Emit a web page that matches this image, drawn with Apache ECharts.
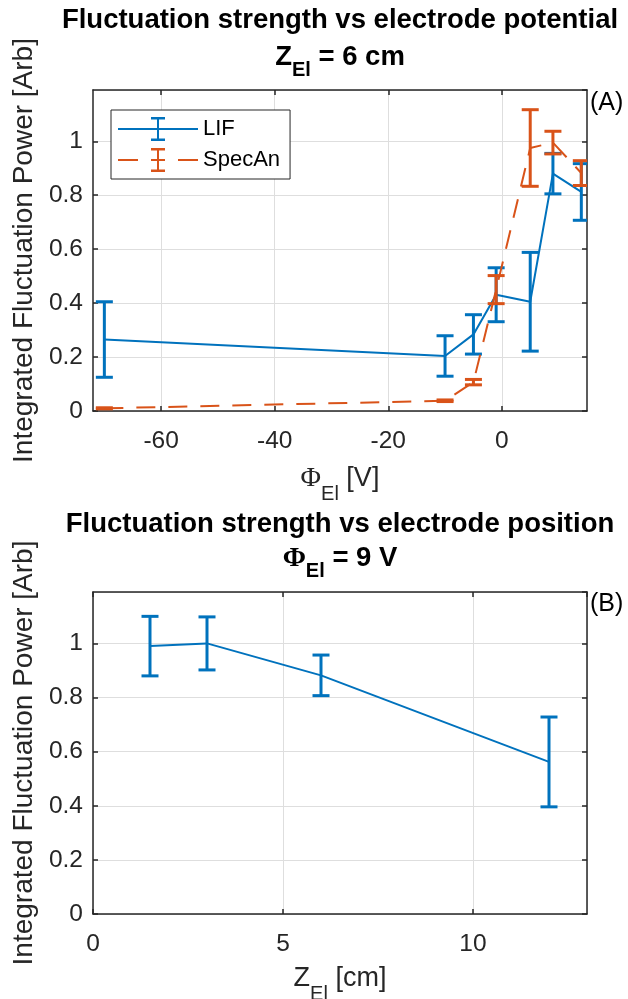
<!DOCTYPE html>
<html>
<head>
<meta charset="utf-8">
<script src="https://cdn.jsdelivr.net/npm/echarts@6/dist/echarts.min.js"></script>
<style>
  html, body { margin: 0; padding: 0; background: #fff; }
  #chart { width: 628px; height: 999px; }
</style>
</head>
<body>
<div id="chart"></div>
<script>
// top panel: fluctuation power vs electrode potential (Z_El = 6 cm)
const potential = [-70, -10, -5, -1, 5, 9, 14];
const lifPower = [0.265, 0.204, 0.284, 0.431, 0.405, 0.880, 0.812];
const lifErr = [0.140, 0.075, 0.073, 0.100, 0.183, 0.075, 0.105];
const specPower = [0.010, 0.038, 0.107, 0.450, 0.975, 0.995, 0.882];
const specErr = [0.002, 0.003, 0.010, 0.052, 0.142, 0.042, 0.046];
const potentialTicks = [-60, -40, -20, 0];

// bottom panel: fluctuation power vs electrode position (Phi_El = 9 V)
const position = [1.5, 3, 6, 12];
const posPower = [0.990, 1.000, 0.882, 0.562];
const posErr = [0.110, 0.098, 0.075, 0.166];

const BLUE = '#0072BD';
const ORANGE = '#D95319';
const AXIS = '#262626';
const GRID = '#dedede';
const FONT = 'Liberation Sans, Arial, Helvetica, sans-serif';
const SERIF = 'Liberation Serif, Times New Roman, serif';

const chart = echarts.init(document.getElementById('chart'));

function toPairs(xs, ys) {
  return xs.map((x, i) => [x, ys[i]]);
}
function toBars(xs, ys, es) {
  return xs.map((x, i) => [x, ys[i] - es[i], ys[i] + es[i]]);
}

// vertical bar with caps, drawn through the axis scales
function errorBarItem(color) {
  return function (params, api) {
    const lo = api.coord([api.value(0), api.value(1)]);
    const hi = api.coord([api.value(0), api.value(2)]);
    const w = 8.5;
    const style = { stroke: color, lineWidth: 3, fill: null };
    return {
      type: 'group',
      children: [
        { type: 'line', shape: { x1: lo[0], y1: lo[1], x2: hi[0], y2: hi[1] }, style },
        { type: 'line', shape: { x1: lo[0] - w, y1: lo[1], x2: lo[0] + w, y2: lo[1] }, style },
        { type: 'line', shape: { x1: hi[0] - w, y1: hi[1], x2: hi[0] + w, y2: hi[1] }, style }
      ]
    };
  };
}

const tickFont = { fontFamily: FONT, fontSize: 24.5, color: AXIS };
const nameRich = {
  n: { fontFamily: FONT, fontSize: 27, color: AXIS, lineHeight: 30 },
  phi: { fontFamily: SERIF, fontSize: 28, color: AXIS, lineHeight: 30 },
  sub: { fontFamily: FONT, fontSize: 20, color: AXIS, verticalAlign: 'bottom', lineHeight: 50 }
};
const titleRich = {
  b: { fontFamily: FONT, fontSize: 27.5, fontWeight: 'bold', color: '#000', lineHeight: 32 },
  phi: { fontFamily: SERIF, fontSize: 28, fontWeight: 'bold', color: '#000', lineHeight: 32 },
  sub: { fontFamily: FONT, fontSize: 20, fontWeight: 'bold', color: '#000', verticalAlign: 'bottom', lineHeight: 45 }
};

function xAxisPair(gridIndex, min, max, interval, customTicks, name, nameGap) {
  const tick = { inside: true, length: 5, lineStyle: { color: AXIS, width: 1.5 } };
  const base = {
    type: 'value',
    gridIndex,
    min,
    max,
    axisLine: { show: true, onZero: false, lineStyle: { color: AXIS, width: 1.5 } }
  };
  if (interval) base.interval = interval;
  const label = Object.assign({ margin: 18 }, tickFont);
  if (customTicks) {
    label.customValues = customTicks;
  } else {
    label.showMaxLabel = false;
  }
  const bottom = Object.assign({}, base, {
    position: 'bottom',
    axisTick: Object.assign({}, tick, customTicks ? { customValues: customTicks } : {}),
    axisLabel: label,
    splitLine: { show: true, lineStyle: { color: GRID, width: 1 } },
    name,
    nameLocation: 'middle',
    nameGap,
    nameTextStyle: { rich: nameRich }
  });
  const top = Object.assign({}, base, {
    position: 'top',
    axisTick: Object.assign({}, tick, customTicks ? { customValues: customTicks } : {}),
    axisLabel: { show: false },
    splitLine: { show: false }
  });
  return [bottom, top];
}

function yAxisPair(gridIndex) {
  const tick = { inside: true, length: 5, lineStyle: { color: AXIS, width: 1.5 } };
  const base = {
    type: 'value',
    gridIndex,
    min: 0,
    max: 1.19,
    interval: 0.2,
    axisLine: { show: true, onZero: false, lineStyle: { color: AXIS, width: 1.5 } },
    axisTick: tick
  };
  const left = Object.assign({}, base, {
    position: 'left',
    axisLabel: Object.assign({ margin: 10, showMaxLabel: false,
      formatter: v => (Math.round(v * 10) / 10).toString() }, tickFont),
    splitLine: { show: true, lineStyle: { color: GRID, width: 1 } },
    name: 'Integrated Fluctuation Power [Arb]',
    nameLocation: 'middle',
    nameGap: 53,
    nameTextStyle: { fontFamily: FONT, fontSize: 28, color: AXIS }
  });
  const right = Object.assign({}, base, {
    position: 'right',
    axisLabel: { show: false },
    splitLine: { show: false }
  });
  return [left, right];
}

const xTop = xAxisPair(0, -72, 15, null, potentialTicks, '{phi|Φ}{sub|El}{n| [V]}', 43);
const xBot = xAxisPair(1, 0, 13, 5, null, '{n|Z}{sub|El}{n| [cm]}', 40);
const yTop = yAxisPair(0);
const yBot = yAxisPair(1);

// legend glyphs: line with an error bar in the middle
const lifIcon = 'path://M0 11H80V13H0Z M39 1H41V23H39Z M33 0H47V2.6H33Z M33 21.4H47V24H33Z';
const specIcon = 'path://M0 11H20V13H0Z M33 11H47V13H33Z M60 11H80V13H60Z M39 1H41V23H39Z M33 0H47V2.6H33Z M33 21.4H47V24H33Z';

const panelTag = { fontFamily: FONT, fontSize: 25, fontWeight: 'normal', color: '#000' };

const option = {
  backgroundColor: '#fff',
  animation: false,
  title: [
    { text: '{b|Fluctuation strength vs electrode potential}', left: 340, top: 4, padding: 0,
      textAlign: 'center', textStyle: { rich: titleRich } },
    { text: '{b|Z}{sub|El}{b| = 6 cm}', left: 340, top: 35, padding: 0,
      textAlign: 'center', textStyle: { rich: titleRich } },
    { text: '{b|Fluctuation strength vs electrode position}', left: 340, top: 508, padding: 0,
      textAlign: 'center', textStyle: { rich: titleRich } },
    { text: '{phi|Φ}{sub|El}{b| = 9 V}', left: 340, top: 536, padding: 0,
      textAlign: 'center', textStyle: { rich: titleRich } },
    { text: '(A)', left: 590, top: 91, padding: 0, textStyle: panelTag },
    { text: '(B)', left: 590, top: 592, padding: 0, textStyle: panelTag }
  ],
  legend: {
    orient: 'vertical',
    left: 111,
    top: 110,
    padding: [7, 10, 7, 7],
    itemGap: 7,
    itemWidth: 80,
    itemHeight: 24,
    borderColor: '#262626',
    borderWidth: 1,
    backgroundColor: '#fff',
    textStyle: { fontFamily: FONT, fontSize: 22, color: '#000' },
    data: [
      { name: 'LIF', icon: lifIcon, itemStyle: { color: BLUE } },
      { name: 'SpecAn', icon: specIcon, itemStyle: { color: ORANGE } }
    ],
    selectedMode: false
  },
  grid: [
    { left: 93, top: 90, width: 494, height: 321, outerBoundsMode: 'none' },
    { left: 93, top: 592, width: 494, height: 322, outerBoundsMode: 'none' }
  ],
  xAxis: [xTop[0], xTop[1], xBot[0], xBot[1]],
  yAxis: [yTop[0], yTop[1], yBot[0], yBot[1]],
  series: [
    {
      name: 'LIF', type: 'custom', xAxisIndex: 0, yAxisIndex: 0, clip: true, z: 3,
      itemStyle: { color: BLUE },
      renderItem: errorBarItem(BLUE),
      encode: { x: 0, y: [1, 2] },
      data: toBars(potential, lifPower, lifErr)
    },
    {
      name: 'LIF', type: 'line', xAxisIndex: 0, yAxisIndex: 0, z: 3,
      symbol: 'none', color: BLUE,
      lineStyle: { color: BLUE, width: 2 },
      data: toPairs(potential, lifPower)
    },
    {
      name: 'SpecAn', type: 'custom', xAxisIndex: 0, yAxisIndex: 0, clip: true, z: 4,
      itemStyle: { color: ORANGE },
      renderItem: errorBarItem(ORANGE),
      encode: { x: 0, y: [1, 2] },
      data: toBars(potential, specPower, specErr)
    },
    {
      name: 'SpecAn', type: 'line', xAxisIndex: 0, yAxisIndex: 0, z: 4,
      symbol: 'none', color: ORANGE,
      lineStyle: { color: ORANGE, width: 2, type: [19, 13] },
      data: toPairs(potential, specPower)
    },
    {
      name: 'position', type: 'custom', xAxisIndex: 2, yAxisIndex: 2, clip: true, z: 3,
      itemStyle: { color: BLUE },
      renderItem: errorBarItem(BLUE),
      encode: { x: 0, y: [1, 2] },
      data: toBars(position, posPower, posErr)
    },
    {
      name: 'position', type: 'line', xAxisIndex: 2, yAxisIndex: 2, z: 3,
      symbol: 'none', color: BLUE,
      lineStyle: { color: BLUE, width: 2 },
      data: toPairs(position, posPower)
    }
  ]
};

chart.setOption(option);
</script>
</body>
</html>
